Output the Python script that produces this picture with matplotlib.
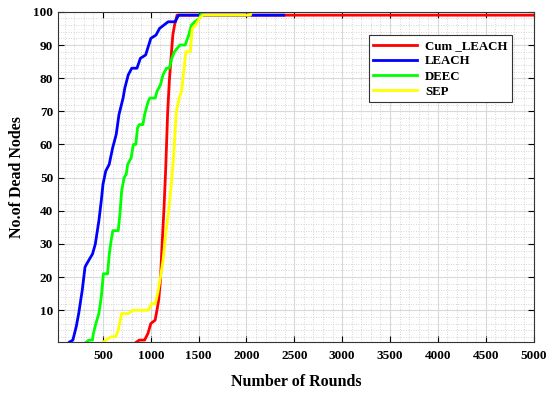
import matplotlib
matplotlib.use("Agg")
import matplotlib.pyplot as plt
from matplotlib.ticker import AutoMinorLocator

# rounds / dead nodes
cum_leach_x = [850, 880, 935, 970, 1000, 1045, 1064, 1082, 1100, 1120, 1138, 1156,
               1175, 1193, 1211, 1230, 1248, 1274, 5000]
cum_leach_y = [0.4, 1, 1, 3, 6, 7, 10, 13, 19, 31, 41, 53, 69, 79, 86, 93, 96, 99, 99]

leach_x = [150, 185, 220, 246, 283, 312, 330, 391, 420, 457, 482, 500, 529, 565, 601,
           638, 667, 710, 728, 764, 801, 855, 891, 946, 1000, 1054, 1091, 1181, 1254,
           1290, 2390]
leach_y = [0.4, 1, 5, 9, 16, 23, 24, 27, 30, 37, 43, 48, 52, 54, 59, 63, 69, 74, 77,
           81, 83, 83, 86, 87, 92, 93, 95, 97, 97, 99, 99]

deec_x = [327, 353, 390, 400, 426, 457, 482, 504, 548, 566, 585, 603, 659, 677, 695,
          721, 743, 758, 795, 817, 843, 861, 880, 917, 935, 972, 990, 1046, 1064, 1101,
          1127, 1164, 1193, 1219, 1248, 1304, 1359, 1396, 1425, 1459, 1507, 1532, 1560]
deec_y = [0.4, 1, 1, 3, 6, 9, 14, 21, 21, 27, 31, 34, 34, 39, 46, 50, 51, 54, 56, 60,
          60, 65, 66, 66, 69, 73, 74, 74, 76, 78, 81, 83, 83, 86, 88, 90, 90, 93, 96,
          97, 98, 100, 100]

sep_x = [504, 529, 585, 633, 659, 695, 769, 806, 972, 1009, 1046, 1071, 1101, 1127,
         1156, 1186, 1211, 1237, 1267, 1296, 1322, 1340, 1366, 1414, 1433, 1470, 1507,
         1543, 2041, 2050]
sep_y = [0.4, 1, 2, 2, 4, 9, 9, 10, 10, 12, 12, 15, 20, 25, 33, 40, 47, 56, 70, 74,
         76, 81, 88, 88, 95, 96, 98, 99, 99, 100]

x_ticks = [500, 1000, 1500, 2000, 2500, 3000, 3500, 4000, 4500, 5000]
y_ticks = [10, 20, 30, 40, 50, 60, 70, 80, 90, 100]

plt.rcParams['font.family'] = ['Liberation Serif', 'DejaVu Serif']
plt.rcParams['font.weight'] = 'bold'

fig = plt.figure(figsize=(5.5, 3.95), dpi=100)
ax = fig.add_axes([0.1055, 0.134, 0.8645, 0.836])

ax.plot(cum_leach_x, cum_leach_y, color=(1, 0, 0), lw=2.0, label='Cum _LEACH')
ax.plot(leach_x, leach_y, color=(0, 0, 1), lw=2.0, label='LEACH')
ax.plot(deec_x, deec_y, color=(0, 1, 0), lw=2.0, label='DEEC')
ax.plot(sep_x, sep_y, color=(1, 1, 0), lw=2.0, label='SEP')

ax.set_xlim(30, 5000)
ax.set_ylim(0.4, 100)
ax.set_xticks(x_ticks)
ax.set_yticks(y_ticks)
ax.xaxis.set_minor_locator(AutoMinorLocator(5))
ax.yaxis.set_minor_locator(AutoMinorLocator(5))
ax.tick_params(which='both', direction='in', top=True, right=True, labelsize=9.5)
ax.tick_params(which='minor', length=0)
ax.tick_params(which='major', length=4, width=0.8)
ax.tick_params(axis='x', pad=6)
ax.grid(which='major', color='#d9d9d9', lw=0.8)
ax.grid(which='minor', color='#c8c8c8', lw=0.6, ls=(0, (1, 2)))
ax.set_axisbelow(True)
for s in ax.spines.values():
    s.set_color('#333333')
    s.set_linewidth(0.8)

ax.set_xlabel('Number of Rounds', fontsize=11.5, fontweight='bold', labelpad=8)
ax.set_ylabel('No.of Dead Nodes', fontsize=11.5, fontweight='bold', labelpad=6)

leg = ax.legend(loc='upper right', bbox_to_anchor=(0.968, 0.948), fontsize=9.3,
                fancybox=False, framealpha=1, edgecolor='#333333',
                handlelength=3.4, borderpad=0.35, labelspacing=0.25, handletextpad=0.6)
leg.get_frame().set_linewidth(0.8)

fig.savefig('out.png', dpi=100)
